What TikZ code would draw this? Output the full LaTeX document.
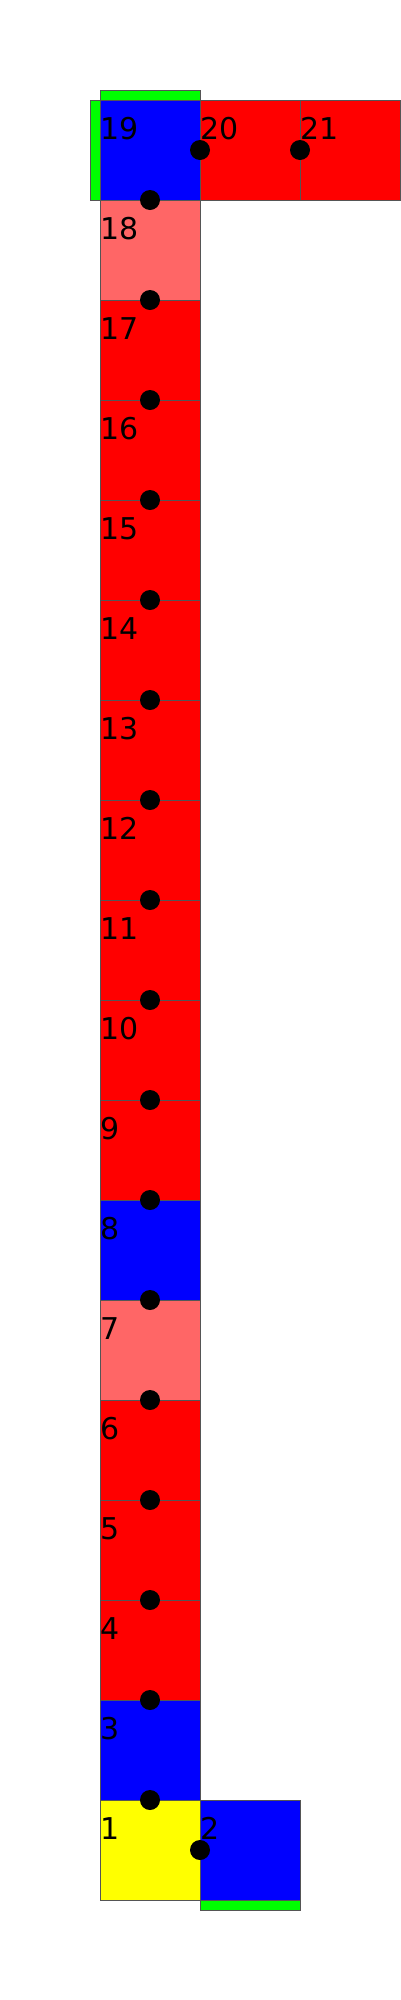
\documentclass[tikz,border=0pt]{standalone}
\usepackage{fontspec}
\setmainfont{DejaVu Sans}
\definecolor{lightred}{HTML}{FF6666}
\definecolor{cellred}{HTML}{FF0000}
\definecolor{cellblue}{HTML}{0000FF}
\definecolor{cellyellow}{HTML}{FFFF00}
\definecolor{cellgreen}{HTML}{00FF00}
\definecolor{edge}{HTML}{555555}
\tikzset{
  cell/.style={draw=edge,line width=1pt,minimum size=100pt,inner sep=0pt,outer sep=0pt},
  num/.style={anchor=base west,inner sep=0pt,font=\fontsize{30}{36}\selectfont},
  bar/.style={draw=edge,line width=1pt,fill=cellgreen},
}
\begin{document}
\begin{tikzpicture}[x=1pt,y=-1pt]
  \useasboundingbox (0,0) rectangle (400,2000);
  % green bars
  \draw[bar] (100,90) rectangle (200,100);
  \draw[bar] (90,100) rectangle (100,200);
  \draw[bar] (200,1900) rectangle (300,1910);
  % the column
  \node[cell,fill=cellyellow] (c1) at (150,1850) {};
  \node[cell,fill=cellblue] (c2) at (250,1850) {};
  \node[cell,fill=cellblue] (c3) at (150,1750) {};
  \foreach \n in {4,5,6,9,10,...,17}
    \node[cell,fill=cellred] (c\n) at (150,2050-100*\n) {};
  \node[cell,fill=lightred] (c7) at (150,1350) {};
  \node[cell,fill=cellblue] (c8) at (150,1250) {};
  \node[cell,fill=lightred] (c18) at (150,250) {};
  \node[cell,fill=cellblue] (c19) at (150,150) {};
  \node[cell,fill=cellred] (c20) at (250,150) {};
  \node[cell,fill=cellred] (c21) at (350,150) {};
  % numbers
  \foreach \n in {1,...,21}
    \node[num] (l\n) at ([yshift=-39pt]c\n.north west) {\n};
  % dots
  \foreach \n in {1,3,4,...,18}
    \fill (c\n.north) circle (10);
  \fill (c2.west) circle (10);
  \fill (c20.west) circle (10);
  \fill (c21.west) circle (10);
\end{tikzpicture}
\end{document}
